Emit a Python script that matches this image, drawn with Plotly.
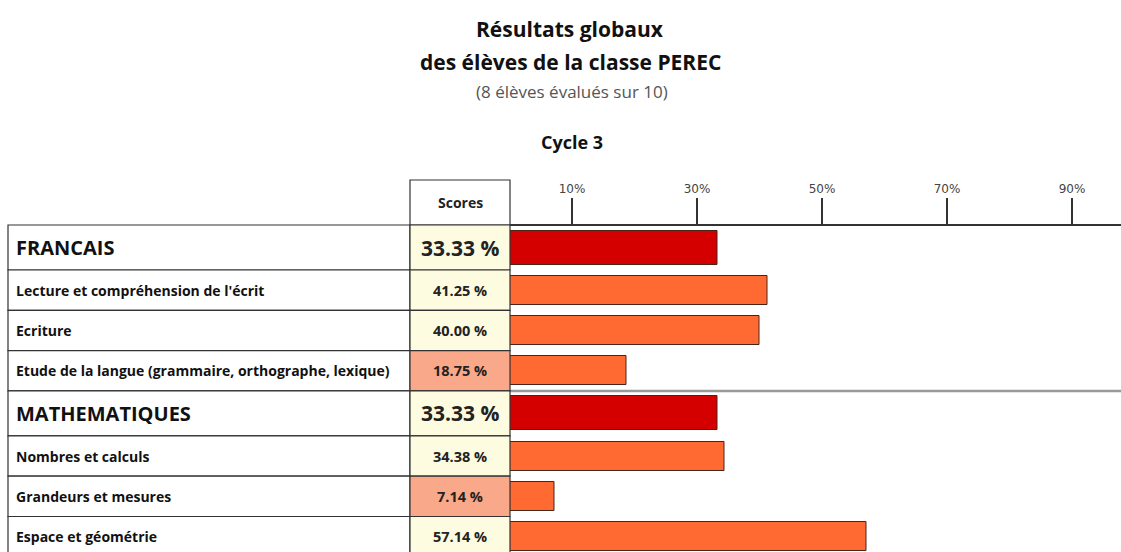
import plotly.graph_objects as go

# ---------------- data ----------------
labels = [
    "FRANCAIS",
    "Lecture et compréhension de l'écrit",
    "Ecriture",
    "Etude de la langue (grammaire, orthographe, lexique)",
    "MATHEMATIQUES",
    "Nombres et calculs",
    "Grandeurs et mesures",
    "Espace et géométrie",
]
row_kind = ["main", "sub", "sub", "sub", "main", "sub", "sub", "sub"]
scores = [33.33, 41.25, 40.00, 18.75, 33.33, 34.38, 7.14, 57.14]
tick_values = [10, 30, 50, 70, 90]
tick_labels = ["10%", "30%", "50%", "70%", "90%"]
title_lines = ["Résultats globaux", "des élèves de la classe PEREC"]
subtitle = "(8 élèves évalués sur 10)"
chart_title = "Cycle 3"
score_header = "Scores"

# ---------------- geometry (pixels) ----------------
W, H = 1121, 552
AXIS_Y = 226          # top of the bar area / axis line
X0_PX = 509.5         # pixel of 0 %
PX_PER_PCT = 6.25
TABLE_L, TABLE_M, TABLE_R = 8, 410, 510
ROW_H = {"main": 45, "sub": 40.3}
BAR_H = {"main": 34, "sub": 29}
BAR_COL = {"main": "#d40000", "sub": "#ff6a33"}
LABEL_FS = {"main": 20, "sub": 14}
SCORE_FS = {"main": 21, "sub": 14.5}
LOW_THRESHOLD = 25
FONT = "Open Sans"


def px(x):
    return x / W


def py(y):
    return 1 - y / H


tops, centers, bottoms = [], [], []
y = AXIS_Y - 1
for k in row_kind:
    tops.append(y)
    centers.append(y + ROW_H[k] / 2)
    y += ROW_H[k]
    bottoms.append(y)

fig = go.Figure()
fig.add_trace(go.Bar(
    x=scores,
    y=centers,
    orientation="h",
    width=[BAR_H[k] for k in row_kind],
    marker=dict(color=[BAR_COL[k] for k in row_kind],
                line=dict(color="#4a2418", width=1)),
    hoverinfo="skip",
    showlegend=False,
))

shapes = []
annotations = []

shapes.append(dict(type="rect", xref="paper", yref="paper",
                   x0=px(TABLE_M), x1=px(TABLE_R), y0=py(AXIS_Y - 1), y1=py(180),
                   line=dict(color="#333333", width=1.2), fillcolor="white", layer="above"))
annotations.append(dict(xref="paper", yref="paper", x=px((TABLE_M + TABLE_R) / 2), y=py(202),
                        text=score_header, showarrow=False, xanchor="center", yanchor="middle",
                        font=dict(family=FONT, size=14, color="#222", weight="bold")))

for lab, k, s, t, c, b in zip(labels, row_kind, scores, tops, centers, bottoms):
    fill = "#f9a98a" if s < LOW_THRESHOLD else "#fdfbe0"
    shapes.append(dict(type="rect", xref="paper", yref="paper",
                       x0=px(TABLE_L), x1=px(TABLE_M), y0=py(b), y1=py(t),
                       line=dict(color="#333333", width=1.2), fillcolor="white", layer="above"))
    shapes.append(dict(type="rect", xref="paper", yref="paper",
                       x0=px(TABLE_M), x1=px(TABLE_R), y0=py(b), y1=py(t),
                       line=dict(color="#333333", width=1.2), fillcolor=fill, layer="above"))
    annotations.append(dict(xref="paper", yref="paper", x=px(TABLE_L + 6), y=py(c),
                            text=lab, showarrow=False, xanchor="left", yanchor="middle",
                            font=dict(family=FONT, size=LABEL_FS[k], color="#111", weight="bold")))
    annotations.append(dict(xref="paper", yref="paper", x=px((TABLE_M + TABLE_R) / 2), y=py(c),
                            text=f"{s:.2f} %", showarrow=False, xanchor="center", yanchor="middle",
                            font=dict(family=FONT, size=SCORE_FS[k], color="#222", weight="bold")))

for i in range(1, len(row_kind)):
    if row_kind[i] == "main":
        shapes.append(dict(type="line", xref="paper", yref="paper",
                           x0=px(TABLE_R), x1=1, y0=py(tops[i]), y1=py(tops[i]),
                           line=dict(color="#999999", width=2.5), layer="below"))

annotations.append(dict(xref="paper", yref="paper", x=px(570), y=py(29), text=title_lines[0],
                        showarrow=False, xanchor="center", yanchor="middle",
                        font=dict(family=FONT, size=21, color="#111", weight="bold")))
annotations.append(dict(xref="paper", yref="paper", x=px(570), y=py(62), text=title_lines[1],
                        showarrow=False, xanchor="center", yanchor="middle",
                        font=dict(family=FONT, size=21, color="#111", weight="bold")))
annotations.append(dict(xref="paper", yref="paper", x=px(572), y=py(92), text=subtitle,
                        showarrow=False, xanchor="center", yanchor="middle",
                        font=dict(family=FONT, size=17, color="#555")))
annotations.append(dict(xref="paper", yref="paper", x=px(572), y=py(142), text=chart_title,
                        showarrow=False, xanchor="center", yanchor="middle",
                        font=dict(family=FONT, size=18, color="#111", weight="bold")))

x_max = (W - X0_PX) / PX_PER_PCT
fig.update_layout(
    width=W, height=H, autosize=False,
    margin=dict(l=0, r=0, t=0, b=0),
    paper_bgcolor="white", plot_bgcolor="white",
    bargap=0,
    xaxis=dict(domain=[px(X0_PX), 1], range=[0, x_max], side="top", anchor="y",
               showline=True, linecolor="#333333", linewidth=2,
               ticks="outside", ticklen=26, tickwidth=2, tickcolor="#333333",
               tickvals=tick_values, ticktext=tick_labels,
               tickfont=dict(family="DejaVu Sans", size=12, color="#444"),
               showgrid=False, zeroline=False, fixedrange=True),
    yaxis=dict(domain=[0, py(AXIS_Y)], range=[H, AXIS_Y], showticklabels=False,
               showgrid=False, zeroline=False, showline=False, ticks="", fixedrange=True),
    shapes=shapes,
    annotations=annotations,
)

fig.write_html("out.html", config={"displayModeBar": False},
               post_script="document.body.style.margin='0';")
